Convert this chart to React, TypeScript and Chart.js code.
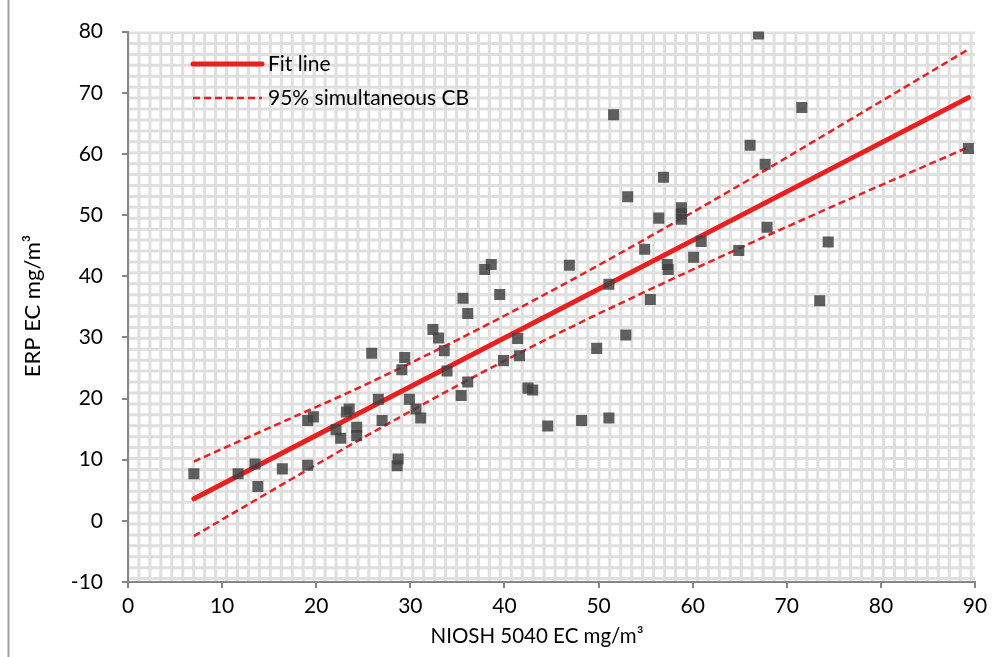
import React, { useEffect, useRef } from "react";
import { Chart, registerables } from "chart.js";
Chart.register(...registerables);

// ---- data ----
const xTickValues = [0, 10, 20, 30, 40, 50, 60, 70, 80, 90];
const yTickValues = [-10, 0, 10, 20, 30, 40, 50, 60, 70, 80];

const nioshEC = [
  7.0, 11.7, 13.5, 13.8, 16.4, 19.1, 19.1, 19.7, 22.1, 22.6,
  23.2, 23.5, 24.3, 24.3, 25.9, 26.6, 27.0, 28.6, 28.7, 29.1,
  29.4, 29.9, 30.6, 31.1, 32.4, 33.0, 33.6, 33.9, 35.4, 35.6,
  36.1, 36.1, 37.9, 38.6, 39.5, 39.9, 41.4, 41.6, 42.5, 43.0,
  44.6, 46.9, 48.2, 49.8, 51.1, 51.1, 51.6, 52.9, 53.1, 54.9,
  55.5, 56.4, 56.9, 57.3, 57.4, 58.8, 58.8, 58.8, 60.1, 60.9,
  64.9, 66.1, 67.0, 67.7, 67.9, 71.6, 73.5, 74.4, 89.3,
];
const erpEC = [
  7.7, 7.7, 9.3, 5.6, 8.5, 9.1, 16.4, 17.0, 14.9, 13.5,
  17.8, 18.3, 15.3, 13.9, 27.4, 19.9, 16.4, 9.0, 10.1, 24.7,
  26.7, 19.9, 18.3, 16.8, 31.3, 29.9, 27.8, 24.5, 20.5, 36.4,
  33.9, 22.7, 41.1, 41.9, 37.0, 26.2, 29.8, 27.0, 21.7, 21.4,
  15.5, 41.8, 16.4, 28.2, 38.7, 16.8, 66.4, 30.4, 53.0, 44.4,
  36.2, 49.5, 56.2, 41.9, 41.1, 51.2, 50.2, 49.3, 43.1, 45.7,
  44.2, 61.4, 79.6, 58.3, 48.0, 67.6, 36.0, 45.6, 60.9,
];

const fitX = [7.0, 89.3];
const fitY = [3.6, 69.2];

const cbX = [7, 15, 25, 35, 45, 55, 65, 75, 89.3];
const cbUpper = [9.7, 15.2, 22.1, 29.6, 37.6, 46.1, 54.9, 64.0, 77.1];
const cbLower = [-2.5, 4.7, 13.6, 22.1, 30.1, 37.5, 44.6, 51.5, 61.1];

const legendLabels = ["Fit line", "95% simultaneous CB"];
const xTitle = "NIOSH 5040 EC mg/m³";
const yTitle = "ERP EC mg/m³";

const RED = "rgb(232,32,32)";
const AXIS = "#868686";
const FONT = "Lato, 'Liberation Sans', sans-serif";

const toXY = (xs: number[], ys: number[]) => xs.map((x, i) => ({ x, y: ys[i] }));

const decorPlugin = {
  id: "decor",
  beforeDraw(chart: any) {
    const ctx = chart.ctx;
    const { left, top, right, bottom } = chart.chartArea;
    ctx.save();
    ctx.fillStyle = "#ffffff";
    ctx.fillRect(0, 0, chart.width, chart.height);
    // chart border on the left
    ctx.fillStyle = "#a0a0a0";
    ctx.fillRect(7.5, 0, 2, chart.height);
    // patterned plot area
    ctx.beginPath();
    ctx.rect(left, top, right - left, bottom - top);
    ctx.clip();
    ctx.strokeStyle = "#dfdfdf";
    ctx.lineWidth = 3;
    ctx.beginPath();
    for (let x = left; x <= right + 2; x += 10.95) {
      ctx.moveTo(x, top);
      ctx.lineTo(x, bottom);
    }
    for (let y = top + 1; y <= bottom + 2; y += 10.92) {
      ctx.moveTo(left, y);
      ctx.lineTo(right, y);
    }
    ctx.stroke();
    ctx.restore();
  },
  afterDraw(chart: any) {
    const ctx = chart.ctx;
    ctx.save();
    // legend
    const lx0 = 193, lx1 = 262, tx = 268;
    const rows = [64, 98];
    ctx.strokeStyle = RED;
    ctx.lineCap = "round";
    ctx.lineWidth = 5;
    ctx.beginPath();
    ctx.moveTo(lx0, rows[0]);
    ctx.lineTo(lx1, rows[0]);
    ctx.stroke();
    ctx.lineCap = "butt";
    ctx.lineWidth = 2.5;
    ctx.setLineDash([7, 4]);
    ctx.beginPath();
    ctx.moveTo(lx0, rows[1]);
    ctx.lineTo(lx1, rows[1]);
    ctx.stroke();
    ctx.setLineDash([]);
    ctx.fillStyle = "#000";
    ctx.font = `21px ${FONT}`;
    ctx.textAlign = "left";
    ctx.textBaseline = "middle";
    ctx.fillText(legendLabels[0], tx, rows[0]);
    ctx.fillText(legendLabels[1], tx, rows[1]);
    // axis titles
    ctx.textAlign = "center";
    ctx.font = `20.5px ${FONT}`;
    ctx.fillText(xTitle, 537, 636);
    ctx.font = `22px ${FONT}`;
    ctx.translate(33, 306);
    ctx.rotate(-Math.PI / 2);
    ctx.fillText(yTitle, 0, 0);
    ctx.restore();
  },
};

export default function App() {
  const ref = useRef<HTMLCanvasElement>(null);
  useEffect(() => {
    if (!ref.current) return;
    const chart = new Chart(ref.current, {
      type: "scatter",
      data: {
        datasets: [
          {
            label: "data",
            data: toXY(nioshEC, erpEC),
            pointStyle: "rect",
            pointRadius: 7.8,
            pointHoverRadius: 7.8,
            pointBorderWidth: 0,
            backgroundColor: "rgba(64,64,64,0.83)",
            borderColor: "rgba(0,0,0,0)",
            showLine: false,
          },
          {
            label: legendLabels[0],
            data: toXY(fitX, fitY),
            showLine: true,
            borderColor: RED,
            borderWidth: 5,
            borderCapStyle: "round",
            pointRadius: 0,
            fill: false,
          },
          {
            label: legendLabels[1],
            data: toXY(cbX, cbUpper),
            showLine: true,
            borderColor: RED,
            borderWidth: 2.5,
            borderDash: [7, 4],
            cubicInterpolationMode: "monotone",
            pointRadius: 0,
            fill: false,
          },
          {
            label: "lower CB",
            data: toXY(cbX, cbLower),
            showLine: true,
            borderColor: RED,
            borderWidth: 2.5,
            borderDash: [7, 4],
            cubicInterpolationMode: "monotone",
            pointRadius: 0,
            fill: false,
          },
        ],
      } as any,
      options: {
        animation: false,
        responsive: false,
        maintainAspectRatio: false,
        layout: { padding: { top: 30, right: 27, bottom: 0, left: 0 } },
        plugins: {
          legend: { display: false },
          tooltip: { enabled: false },
        },
        scales: {
          x: {
            type: "linear",
            min: 0,
            max: 90,
            afterBuildTicks: (s: any) => {
              s.ticks = xTickValues.map((v) => ({ value: v }));
            },
            afterFit: (s: any) => {
              s.height = 75;
            },
            grid: {
              drawOnChartArea: false,
              drawTicks: true,
              tickLength: 6,
              color: AXIS,
              lineWidth: 2,
            },
            border: { display: true, color: AXIS, width: 2 },
            ticks: {
              color: "#000",
              font: { family: FONT, size: 21 },
              padding: 6,
              maxRotation: 0,
            },
          },
          y: {
            type: "linear",
            min: -10,
            max: 80,
            afterBuildTicks: (s: any) => {
              s.ticks = yTickValues.map((v) => ({ value: v }));
            },
            afterFit: (s: any) => {
              s.width = 128;
            },
            grid: {
              drawOnChartArea: false,
              drawTicks: true,
              tickLength: 6,
              color: AXIS,
              lineWidth: 2,
            },
            border: { display: true, color: AXIS, width: 2 },
            ticks: {
              color: "#000",
              font: { family: FONT, size: 21 },
              padding: 19,
            },
          },
        },
      } as any,
      plugins: [decorPlugin],
    });
    return () => chart.destroy();
  }, []);
  return (
    <div style={{ position: "absolute", left: 0, top: 0, width: 1002, height: 657 }}>
      <canvas ref={ref} width={1002} height={657} style={{ display: "block" }} />
    </div>
  );
}
